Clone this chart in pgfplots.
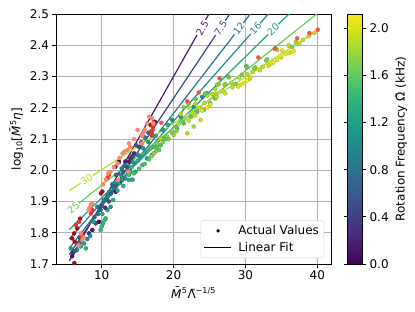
\documentclass[border=0pt]{standalone}
\usepackage{pgfplots}
\pgfplotsset{compat=1.18}
\usepackage{fontspec}
\setmainfont{DejaVu Sans}
\definecolor{gridgray}{HTML}{B0B0B0}
\definecolor{cA}{HTML}{48186A}
\definecolor{cB}{HTML}{3E4A89}
\definecolor{cC}{HTML}{2C718E}
\definecolor{cD}{HTML}{23898E}
\definecolor{cE}{HTML}{1FA287}
\definecolor{cF}{HTML}{6CCD5A}
\definecolor{cG}{HTML}{B5DE2B}
\definecolor{rdark}{HTML}{9B101A}
\definecolor{rmid}{HTML}{E3372C}
\definecolor{rtom}{HTML}{F0533F}
\definecolor{rlight}{HTML}{F8886B}
\begin{document}
\begin{tikzpicture}
\begin{axis}[
  name=main,
  scale only axis, width=275pt, height=250pt,
  xmin=3.65, xmax=41.9, ymin=1.7, ymax=2.5,
  xtick={10,20,30,40},
  ytick={1.7,1.8,1.9,2.0,2.1,2.2,2.3,2.4,2.5},
  yticklabel style={/pgf/number format/.cd, fixed, fixed zerofill, precision=1},
  /pgf/number format/assume math mode=true,
  tick label style={font=\fontsize{12}{14}\selectfont},
  label style={font=\fontsize{12}{14}\selectfont},
  tick align=outside, tick pos=left, major tick length=3.5pt,
  tick style={black, line width=0.8pt},
  axis line style={line width=0.8pt},
  grid=major, grid style={gridgray, line width=0.8pt},
  xlabel={\textit{M̄}\textsuperscript{5}Λ̃\textsuperscript{−1/5}},
  ylabel={log\textsubscript{10}[\textit{M̄}\textsuperscript{5}\textit{η}]},
  colormap name=viridis,
  point meta min=0, point meta max=2.12,
  colorbar,
  colorbar style={
    at={(parent axis.north east)}, anchor=north west, xshift=8pt,
    width=15pt,
    ytick={0,0.4,0.8,1.2,1.6,2.0},
    yticklabel style={/pgf/number format/.cd, fixed, fixed zerofill, precision=1, assume math mode=true},
    tick label style={font=\fontsize{12}{14}\selectfont},
    tick align=outside, major tick length=3.5pt,
    tick style={black, line width=0.8pt},
    ylabel={Rotation Frequency Ω̄ (kHz)},
    ylabel style={font=\fontsize{12}{14}\selectfont},
    axis line style={line width=0.8pt},
  },
  legend style={at={(0.975,0.024)}, anchor=south east, draw=black!15, rounded corners=2pt,
    font=\fontsize{12}{14}\selectfont, row sep=2pt, inner sep=3pt},
  legend cell align=left,
]
\addlegendimage{legend image code/.code={\fill[black, draw=none] (0.48cm,0cm) circle (1.8pt); \path[draw=none, fill=none] (0cm,0cm) rectangle (1.12cm,0.01cm);}}
\addlegendentry{Actual Values}
\addlegendimage{legend image code/.code={\draw[black, line width=1.2pt] (0cm,0cm) -- (0.95cm,0cm); \path[draw=none, fill=none] (0cm,0cm) rectangle (1.12cm,0.01cm);}}
\addlegendentry{Linear Fit}

\addplot[scatter, only marks, mark=*, mark size=2pt, point meta=explicit, forget plot] table[meta=c] {
x y c
5.7 1.750 1.15
6.6 1.745 1.25
7.1 1.756 1.30
7.55 1.766 1.20
7.8 1.750 1.35
6.0 1.735 0.40
5.9 1.725 0.10
6.3 1.742 0.60
7.0 1.770 0.85
6.9 1.785 0.55
8.24 1.798 0.25
8.7 1.809 0.15
9.17 1.830 0.45
9.63 1.835 0.10
8.0 1.780 0.95
8.4 1.790 1.10
9.4 1.883 0.90
9.86 1.873 0.70
10.3 1.905 0.95
10.8 1.915 1.05
11.25 1.931 0.85
11.7 1.942 1.00
9.0 1.850 0.60
8.9 1.835 1.20
9.86 1.809 1.45
10.0 1.820 1.45
10.2 1.830 1.40
10.4 1.840 1.45
10.56 1.846 1.40
10.1 1.860 1.30
10.8 1.873 1.25
11.25 1.883 1.20
10.5 1.880 0.30
11.0 1.900 0.50
11.94 1.931 0.10
12.6 1.963 0.20
12.4 1.958 1.10
12.9 1.969 1.20
13.3 1.974 1.10
13.8 1.985 1.45
14.0 1.995 1.40
13.8 1.969 1.30
14.3 1.970 1.25
14.7 1.995 1.30
12.4 2.027 0.05
11.9 2.011 0.10
13.3 2.028 0.20
14.0 2.038 0.35
14.5 2.054 0.25
13.8 2.027 0.15
15.2 2.075 0.40
15.65 2.017 1.45
16.3 2.038 1.20
17.0 2.049 1.15
17.7 2.075 1.55
18.0 2.065 1.60
18.2 2.080 1.55
17.3 2.075 1.50
16.8 2.070 1.55
17.7 2.086 1.75
18.2 2.102 1.85
19.1 2.107 1.85
20.05 2.113 1.90
21.9 2.118 1.90
22.8 2.140 1.85
23.75 2.161 1.95
19.8 2.161 1.15
21.0 2.171 1.15
22.8 2.203 1.10
24.0 2.235 1.15
24.7 2.246 1.30
20.5 2.134 1.55
21.4 2.150 1.50
22.4 2.171 1.60
23.3 2.187 1.55
24.2 2.193 1.60
25.1 2.214 1.55
25.8 2.230 1.50
15.5 2.090 0.80
16.0 2.105 0.95
16.5 2.120 0.75
17.4 2.155 0.05
14.8 2.080 0.60
12.0 1.985 0.70
12.8 2.005 0.90
13.2 2.015 0.85
11.5 1.955 0.55
16.9 2.045 1.75
17.3 2.055 1.80
17.6 2.062 1.70
18.5 2.090 1.75
19.3 2.100 1.70
19.8 2.120 1.65
20.4 2.125 1.80
15.0 2.030 1.35
15.3 2.045 1.25
16.0 2.060 1.30
14.2 2.010 1.40
13.0 1.950 1.35
12.2 1.935 1.30
11.6 1.905 1.35
12.7 1.985 1.05
13.5 2.000 1.15
14.4 2.025 1.10
15.0 2.050 1.05
15.8 2.070 1.10
16.5 2.090 1.20
17.5 2.110 1.25
18.5 2.130 1.20
19.2 2.145 1.30
11.0 1.930 1.15
11.8 1.960 1.20
14.5 1.990 1.50
15.2 2.005 1.55
16.0 2.020 1.50
16.6 2.035 1.60
18.8 2.100 1.60
9.5 1.860 0.75
10.0 1.885 0.60
10.7 1.905 0.70
11.3 1.925 0.65
12.0 1.950 0.75
13.0 1.995 0.65
13.6 2.010 0.55
14.2 2.045 0.50
36.7 2.381 2.10
36.25 2.377 2.08
35.55 2.372 2.10
35.0 2.361 2.05
34.4 2.353 2.08
33.9 2.345 2.10
35.1 2.383 2.05
30.56 2.292 2.05
30.2 2.287 2.10
29.77 2.279 2.08
29.3 2.274 2.05
25.1 2.210 2.05
24.7 2.201 2.08
24.0 2.191 2.05
30.7 2.297 2.00
34.8 2.366 2.10
36.0 2.375 2.05
33.5 2.340 2.05
29.0 2.268 2.05
38.8 2.429 1.90
38.0 2.417 1.92
36.0 2.399 1.88
34.4 2.385 1.90
32.87 2.351 1.88
32.4 2.331 1.92
31.4 2.329 1.90
30.2 2.308 1.90
29.1 2.297 1.92
27.7 2.297 1.88
27.2 2.276 1.90
26.3 2.276 1.92
25.8 2.260 1.90
27.2 2.246 1.95
25.4 2.244 1.90
24.7 2.239 1.88
23.05 2.212 1.90
22.1 2.201 1.92
21.0 2.180 1.90
22.1 2.159 1.95
20.7 2.148 1.90
26.0 2.235 1.95
28.2 2.265 1.92
39.6 2.440 1.95
21.5 2.165 1.85
22.6 2.185 1.90
23.5 2.200 1.88
24.3 2.215 1.92
25.9 2.245 1.90
26.8 2.255 1.95
28.0 2.280 1.88
31.0 2.315 1.92
32.0 2.320 1.95
33.2 2.335 2.00
37.5 2.405 1.92
37.0 2.410 1.85
23.0 2.175 1.95
30.1 2.333 1.65
31.25 2.327 1.70
34.2 2.390 1.65
26.1 2.274 1.70
27.1 2.273 1.75
28.6 2.276 1.70
22.1 2.214 1.65
23.05 2.228 1.60
24.4 2.246 1.65
21.4 2.201 1.70
27.6 2.300 1.60
30.2 2.330 1.60
33.0 2.355 1.70
36.5 2.395 1.75
29.5 2.305 1.70
};

\addplot[cA, line width=1.2pt, forget plot] coordinates {(5.5,1.71) (40.3,3.126)};
\addplot[cB, line width=1.2pt, forget plot] coordinates {(5.5,1.73) (40.3,2.931)};
\addplot[cC, line width=1.2pt, forget plot] coordinates {(5.5,1.75) (40.3,2.787)};
\addplot[cD, line width=1.2pt, forget plot] coordinates {(5.5,1.78) (40.3,2.685)};
\addplot[cE, line width=1.2pt, forget plot] coordinates {(5.5,1.81) (40.3,2.596)};
\addplot[cF, line width=1.2pt, forget plot] coordinates {(5.5,1.87) (40.3,2.507)};
\addplot[cG, line width=1.2pt, forget plot] coordinates {(5.5,1.935) (40.3,2.451)};

\addplot[only marks, mark=*, mark size=2pt, color=rdark, forget plot] coordinates {
(6.25,1.771) (6.6,1.814) (6.16,1.798) (5.9,1.782) (9.9,1.926) (10.1,1.932)
(17.3,2.155) (16.8,2.145) (6.2,1.703) (7.0,1.845)
};
\addplot[only marks, mark=*, mark size=2pt, color=rmid, forget plot] coordinates {
(17.0,2.110) (17.0,2.120) (17.1,2.130) (17.1,2.140) (17.2,2.150) (16.9,2.125)
(8.7,1.873) (8.5,1.862) (6.4,1.825) (6.85,1.835) (10.8,1.975) (11.0,1.985) (7.2,1.790)
};
\addplot[only marks, mark=*, mark size=2pt, color=rtom, forget plot] coordinates {
(40.05,2.450) (38.9,2.439) (37.2,2.422) (34.07,2.389) (31.8,2.361) (26.4,2.294)
(23.5,2.249) (21.9,2.221) (18.3,2.152)
};
\addplot[only marks, mark=*, mark size=2pt, color=rlight, forget plot] coordinates {
(15.8,2.120) (15.6,2.110) (16.0,2.130) (16.6,2.171) (13.8,2.086) (14.0,2.075)
(13.6,2.065) (12.9,2.054) (13.2,2.060) (12.2,2.022) (12.5,2.040) (11.7,2.010)
(10.6,1.970) (11.2,1.995) (8.2,1.873) (8.5,1.890) (8.7,1.894) (8.3,1.880)
(7.3,1.777) (7.1,1.798) (7.5,1.785) (6.8,1.760) (15.0,2.129) (16.3,2.150)
(17.0,2.166) (12.3,1.969) (13.7,1.995) (15.6,2.086) (17.2,2.150) (10.2,1.955)
(10.9,1.99) (14.5,2.10)
};

\node[cA, fill=white, inner sep=1pt, rotate=60.5, font=\fontsize{9.5}{10}\selectfont] at (axis cs:24.0,2.455) {2.5};
\node[cB, fill=white, inner sep=1pt, rotate=56.3, font=\fontsize{9.5}{10}\selectfont] at (axis cs:26.55,2.455) {7.5};
\node[cC, fill=white, inner sep=1pt, rotate=52.3, font=\fontsize{9.5}{10}\selectfont] at (axis cs:29.07,2.453) {12};
\node[cD, fill=white, inner sep=1pt, rotate=48.4, font=\fontsize{9.5}{10}\selectfont] at (axis cs:31.39,2.453) {16};
\node[cE, fill=white, inner sep=1pt, rotate=44.4, font=\fontsize{9.5}{10}\selectfont] at (axis cs:33.85,2.451) {20};
\node[cF, fill=white, inner sep=1pt, rotate=38.5, font=\fontsize{9.5}{10}\selectfont] at (axis cs:6.07,1.880) {25};
\node[cG, fill=white, inner sep=1pt, rotate=32.8, font=\fontsize{9.5}{10}\selectfont] at (axis cs:7.92,1.971) {30};
\end{axis}
\pgfresetboundingbox
\path[use as bounding box] (main.south west) ++(-56pt,-47pt) rectangle ++(415pt,311pt);
\end{tikzpicture}
\end{document}
